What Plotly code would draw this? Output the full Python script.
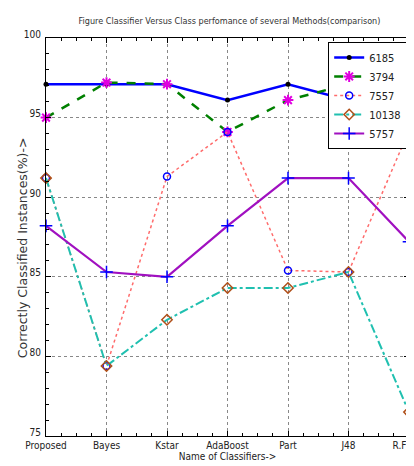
import plotly.graph_objects as go

categories = ["Proposed", "Bayes", "Kstar", "AdaBoost", "Part", "J48", "R.Fores"]
s6185 = [97.1, 97.1, 97.1, 96.1, 97.1, 96.1, 97.1]
s3794 = [95.0, 97.2, 97.1, 94.1, 96.1, 97.1, 97.1]
s7557 = [91.2, 79.4, 91.3, 94.1, 85.4, 85.3, 94.2]
s10138 = [91.2, 79.4, 82.3, 84.3, 84.3, 85.3, 76.5]
s5757 = [88.2, 85.3, 85.0, 88.2, 91.2, 91.2, 87.2]
yticks = [75, 80, 85, 90, 95, 100]

x = list(range(len(categories)))
FONT = "Liberation Sans Narrow, Arial Narrow, DejaVu Sans Condensed, sans-serif"

fig = go.Figure()
fig.add_trace(go.Scatter(x=x, y=s6185, name="6185", mode="lines+markers",
                         line=dict(color="#0000ff", width=2.5),
                         marker=dict(symbol="circle", size=5, color="black"),
                         cliponaxis=False))
fig.add_trace(go.Scatter(x=x, y=s3794, name="3794", mode="lines+markers",
                         line=dict(color="#008000", width=2.5, dash="dash"),
                         marker=dict(symbol="asterisk-open", size=9, color="#e000e0",
                                     line=dict(color="#e000e0", width=2)),
                         cliponaxis=False))
fig.add_trace(go.Scatter(x=x, y=s7557, name="7557", mode="lines+markers",
                         line=dict(color="#ff6b6b", width=1.5, dash="dot"),
                         marker=dict(symbol="circle-open", size=7, color="#0000ff",
                                     line=dict(color="#0000ff", width=1.5)),
                         cliponaxis=False))
fig.add_trace(go.Scatter(x=x, y=s10138, name="10138", mode="lines+markers",
                         line=dict(color="#20c0b0", width=2, dash="dashdot"),
                         marker=dict(symbol="diamond-open", size=8, color="#b0501a",
                                     line=dict(color="#b0501a", width=1.5)),
                         cliponaxis=False))
fig.add_trace(go.Scatter(x=x, y=s5757, name="5757", mode="lines+markers",
                         line=dict(color="#a010c0", width=2.2),
                         marker=dict(symbol="cross-thin-open", size=9, color="#0000ff",
                                     line=dict(color="#0000ff", width=1.5)),
                         cliponaxis=False))

fig.update_layout(
    width=414, height=466,
    margin=dict(l=38, r=13, t=30, b=38, autoexpand=False),
    paper_bgcolor="white", plot_bgcolor="white",
    font=dict(family=FONT, size=10, color="#222"),
    title=dict(text="Figure Classifier Versus Class perfomance of several Methods(comparison)",
               x=0.535, xanchor="center", y=0.972, yanchor="middle",
               font=dict(family=FONT, size=9, color="#333")),
    showlegend=True,
    legend=dict(x=0.995, y=0.99, xanchor="right", yanchor="top",
                bgcolor="white", bordercolor="black", borderwidth=1,
                font=dict(family=FONT, size=11, color="#222"),
                tracegroupgap=0, itemwidth=30),
    annotations=[dict(text="Correctly Classified Instances(%)->", textangle=-90,
                      xref="paper", yref="paper", x=0, y=0.472, xshift=-24,
                      xanchor="center", yanchor="middle", showarrow=False,
                      font=dict(family="DejaVu Sans, sans-serif", size=12.5, color="#333"))],
)
fig.update_xaxes(
    range=[0, 6], tickmode="array", tickvals=x, ticktext=categories,
    automargin=False, ticklabeloverflow="allow",
    showline=True, linecolor="black", linewidth=1, mirror="ticks",
    ticks="inside", ticklen=5, tickcolor="black",
    showgrid=True, gridcolor="#888", griddash="dot", gridwidth=1,
    zeroline=False,
    minor=dict(ticks="inside", dtick=0.25, ticklen=3, tickcolor="black", showgrid=False),
    title=dict(text="Name of Classifiers->", standoff=2, font=dict(family=FONT, size=10)),
    tickfont=dict(family=FONT, size=10),
)
fig.update_yaxes(
    range=[75, 100], tickmode="array", tickvals=yticks,
    automargin=False, ticklabeloverflow="allow",
    showline=True, linecolor="black", linewidth=1, mirror="ticks",
    ticks="inside", ticklen=5, tickcolor="black",
    showgrid=True, gridcolor="#888", griddash="dot", gridwidth=1,
    zeroline=False, ticklabelshift=-4, ticklabelstandoff=2,
    minor=dict(ticks="inside", dtick=1, ticklen=3, tickcolor="black", showgrid=False),
    tickfont=dict(family=FONT, size=10),
)

fig.write_html("out.html")
